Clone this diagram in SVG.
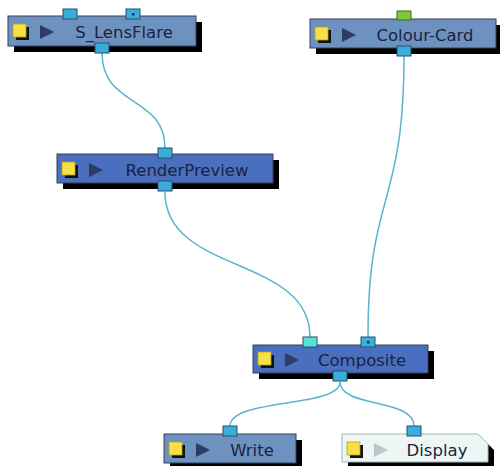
<svg xmlns="http://www.w3.org/2000/svg" width="500" height="466" viewBox="0 0 500 466">
<style>
.shadow{fill:#000}
.box{stroke:#34405a;stroke-width:1}
.light{fill:#6e92c0}
.dark{fill:#4a6fbe}
.disp{fill:#eef6f5;stroke:#9fb9b9}
.ysh{fill:#111}
.yel{fill:#f7e046;stroke:#b8a020;stroke-width:0.8}
.tri{fill:#2c3c64}
.tri2{fill:#bfc6c8}
.lbl{font-family:"DejaVu Sans","Liberation Sans",sans-serif;font-size:16.5px;fill:#1a2340;text-anchor:middle}
.port{fill:#3aaedb;stroke:#25506e;stroke-width:1}
.portc{fill:#55e3dc;stroke:#25506e;stroke-width:1}
.portg{fill:#7cc83a;stroke:#3e6a20;stroke-width:1}
.dot{fill:#1d3550}
.wire{fill:none;stroke:#5ab4d0;stroke-width:1.5}
</style>
<g id="connectors">
<path class="wire" d="M102,53 C102,108 165,95 165,148"/>
<path class="wire" d="M404,55 C404,210 368,190 368,337"/>
<path class="wire" d="M165,192 C165,275 310,255 310,337"/>
<path class="wire" d="M340,382 C340,408 230,398 230,426"/>
<path class="wire" d="M340,382 C340,408 414,398 414,426"/>
</g>
<g id="S_LensFlare">
<rect class="shadow" x="14" y="22" width="188" height="30"/>
<rect class="box light" x="8" y="16" width="188" height="30"/>
<rect class="ysh" x="16" y="27" width="13" height="13"/>
<rect class="yel" x="13" y="24" width="13" height="13"/>
<polygon class="tri" points="40,25 54,32 40,39"/>
<text class="lbl" x="124" y="38">S_LensFlare</text>
<rect class="port" x="63" y="9" width="14" height="10"/>
<rect class="port" x="126" y="9" width="14" height="10"/>
<rect class="dot" x="132" y="13" width="2.5" height="2.5"/>
<rect class="port" x="95" y="43" width="14" height="10"/>
</g>
<g id="Colour-Card">
<rect class="shadow" x="316" y="25" width="186" height="29"/>
<rect class="box light" x="310" y="19" width="186" height="29"/>
<rect class="ysh" x="318" y="30" width="13" height="13"/>
<rect class="yel" x="315" y="27" width="13" height="13"/>
<polygon class="tri" points="342,28 356,35 342,42"/>
<text class="lbl" x="425" y="41">Colour-Card</text>
<rect class="portg" x="397" y="11" width="14" height="9"/>
<rect class="port" x="397" y="46" width="14" height="10"/>
</g>
<g id="RenderPreview">
<rect class="shadow" x="63" y="160" width="216" height="29"/>
<rect class="box dark" x="57" y="154" width="216" height="29"/>
<rect class="ysh" x="65" y="165" width="13" height="13"/>
<rect class="yel" x="62" y="162" width="13" height="13"/>
<polygon class="tri" points="89,163 103,170 89,177"/>
<text class="lbl" x="187" y="176">RenderPreview</text>
<rect class="port" x="158" y="148" width="14" height="10"/>
<rect class="port" x="158" y="181" width="14" height="10"/>
</g>
<g id="Composite">
<rect class="shadow" x="259" y="351" width="175" height="28"/>
<rect class="box dark" x="253" y="345" width="175" height="28"/>
<rect class="ysh" x="261" y="355" width="13" height="13"/>
<rect class="yel" x="258" y="352" width="13" height="13"/>
<polygon class="tri" points="285,353 299,360 285,367"/>
<text class="lbl" x="362" y="366">Composite</text>
<rect class="portc" x="303" y="337" width="14" height="10"/>
<rect class="port" x="361" y="337" width="14" height="10"/>
<rect class="dot" x="367" y="341" width="2.5" height="2.5"/>
<rect class="port" x="333" y="371" width="14" height="10"/>
</g>
<g id="Write">
<rect class="shadow" x="170" y="440" width="132" height="29"/>
<rect class="box light" x="164" y="434" width="132" height="29"/>
<rect class="ysh" x="172" y="445" width="13" height="13"/>
<rect class="yel" x="169" y="442" width="13" height="13"/>
<polygon class="tri" points="196,443 210,450 196,457"/>
<text class="lbl" x="252" y="456">Write</text>
<rect class="port" x="223" y="426" width="14" height="10"/>
</g>
<g id="Display">
<path class="shadow" d="M348,440 H484 L494,450 V468 H348 Z"/>
<path class="disp" d="M342,434 H478 L488,444 V462 H342 Z"/>
<rect class="ysh" x="350" y="445" width="13" height="13"/>
<rect class="yel" x="347" y="442" width="13" height="13"/>
<polygon class="tri2" points="374,443 388,450 374,457"/>
<text class="lbl" x="437" y="456">Display</text>
<rect class="port" x="407" y="426" width="14" height="10"/>
</g>
</svg>
